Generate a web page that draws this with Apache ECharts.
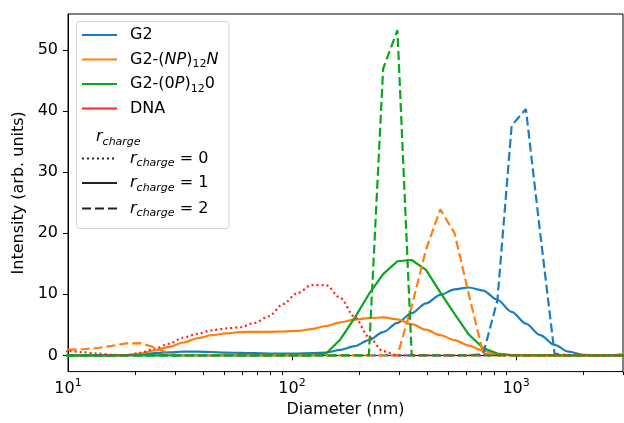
<!DOCTYPE html>
<html>
<head>
<meta charset="utf-8">
<script src="https://cdn.jsdelivr.net/npm/echarts@6/dist/echarts.min.js"></script>
<style>html,body{margin:0;padding:0;background:#fff}#c{width:624px;height:423px}</style>
</head>
<body>
<div id="c"></div>
<script>
// Diameter bins (nm)
const diameters = [8.721, 10.1, 11.7, 13.54, 15.69, 18.17, 21.04, 24.36, 28.21, 32.67, 37.84, 43.82, 50.75, 58.77, 68.06, 78.82, 91.28, 105.7, 122.4, 141.8, 164.2, 190.1, 220.2, 255.0, 295.3, 342.0, 396.1, 458.7, 531.2, 615.1, 712.4, 825.0, 955.4, 1106, 1281, 1484, 1718, 1990, 2305, 2669, 3091];
// G2, r_charge = 1
const g2_r1 = [0, 0, 0, 0, 0, 0.05, 0.15, 0.35, 0.5, 0.6, 0.6, 0.55, 0.45, 0.4, 0.35, 0.3, 0.3, 0.3, 0.35, 0.45, 0.9, 1.5, 2.5, 3.8, 5.3, 6.9, 8.5, 9.9, 10.8, 11.1, 10.6, 9.1, 7.1, 5.2, 3.3, 1.7, 0.6, 0.1, 0, 0, 0];
// G2, r_charge = 2
const g2_r2 = [0, 0, 0, 0, 0, 0, 0, 0, 0, 0, 0, 0, 0, 0, 0, 0, 0, 0, 0, 0, 0, 0, 0, 0, 0, 0, 0, 0, 0, 0, 0.2, 9.0, 37.6, 40.3, 20.0, 0.3, 0, 0, 0, 0, 0];
// G2-(NP)12N, r_charge = 1
const np_r1 = [0, 0, 0, 0, 0, 0.05, 0.3, 0.8, 1.4, 2.1, 2.8, 3.3, 3.6, 3.8, 3.85, 3.85, 3.9, 4.0, 4.3, 4.8, 5.4, 5.85, 6.1, 6.2, 5.9, 5.1, 4.2, 3.3, 2.5, 1.6, 0.75, 0.2, 0.03, 0, 0, 0, 0, 0, 0, 0.05, 0.3];
// G2-(NP)12N, r_charge = 2
const np_r2 = [0.9, 0.95, 1.0, 1.2, 1.55, 1.95, 2.0, 1.3, 0.3, 0, 0, 0, 0, 0, 0, 0, 0, 0, 0, 0, 0, 0, 0, 0, 0, 8.0, 17.3, 23.9, 20.0, 10.0, 0.3, 0, 0, 0, 0, 0, 0, 0, 0, 0, 0];
// G2-(0P)120, r_charge = 1
const op_r1 = [0, 0, 0, 0, 0, 0, 0, 0, 0, 0, 0, 0, 0, 0, 0, 0, 0, 0, 0, 0.3, 2.6, 6.1, 10.0, 13.3, 15.4, 15.6, 14.0, 10.3, 6.8, 3.4, 1.2, 0.3, 0.05, 0, 0, 0, 0, 0, 0, 0, 0];
// G2-(0P)120, r_charge = 2
const op_r2 = [0, 0, 0, 0, 0, 0, 0, 0, 0, 0, 0, 0, 0, 0, 0, 0, 0, 0, 0, 0, 0, 0, 0, 46.9, 53.2, 0, 0, 0, 0, 0, 0, 0, 0, 0, 0, 0, 0, 0, 0, 0, 0];
// DNA, r_charge = 0
const dna_r0 = [0.8, 0.7, 0.5, 0.3, 0.1, 0.0, 0.4, 1.1, 1.9, 2.9, 3.5, 4.1, 4.4, 4.6, 5.3, 6.4, 8.4, 10.2, 11.5, 11.5, 9.4, 6.3, 3.0, 0.7, 0, 0, 0, 0, 0, 0, 0, 0, 0, 0, 0, 0, 0, 0, 0, 0, 0];

const xMajorTicks = [10, 100, 1000];
const xMinorTicks = [20, 30, 40, 50, 60, 70, 80, 90, 200, 300, 400, 500, 600, 700, 800, 900, 2000, 3000];
const yTicks = [0, 10, 20, 30, 40, 50];

const C = {blue: '#1a7dc0', orange: '#ff7f0e', green: '#0ca51e', red: '#ff2222'};
const DASH = [9, 4], DOT = [2, 3];
const FONT = 'DejaVu Sans';

function pairs(ys) { return diameters.map((d, i) => [d, ys[i]]); }
function mk(name, ys, color, type, smooth) {
  return {
    name, type: 'line', data: pairs(ys), xAxisIndex: 0, yAxisIndex: 0,
    showSymbol: false, symbol: 'none', clip: true, animation: false,
    smooth: smooth ? 0.3 : false, smoothMonotone: 'x',
    lineStyle: {color, width: 2.2, type}
  };
}

const chart = echarts.init(document.getElementById('c'), null, {renderer: 'canvas'});

const lx1 = 82, lx2 = 117, tx = 130;
const rowsY = [35, 59.5, 84, 108.5];
const legendGraphics = [
  {type: 'rect', shape: {x: 76.5, y: 21.5, width: 152.5, height: 207, r: 3},
   style: {fill: 'rgba(255,255,255,0.85)', stroke: '#d4d4d4', lineWidth: 1}, z: 100},
];
const legendColors = [C.blue, C.orange, C.green, C.red];
legendColors.forEach((c, i) => legendGraphics.push({type: 'line', shape: {x1: lx1, y1: rowsY[i], x2: lx2, y2: rowsY[i]}, style: {stroke: c, lineWidth: 2.2}, z: 101}));
const rich = {
  n: {fontFamily: FONT, fontSize: 16, fill: '#000'},
  i: {fontFamily: FONT, fontSize: 16, fontStyle: 'italic', fill: '#000'},
  s: {fontFamily: FONT, fontSize: 11, fill: '#000', padding: [10, 0, 0, 0]},
  si: {fontFamily: FONT, fontSize: 11, fontStyle: 'italic', fill: '#000', padding: [10, 0, 0, 0]}
};
const legendTexts = [
  '{n|G2}',
  '{n|G2-(}{i|NP}{n|)}{s|12}{i|N}',
  '{n|G2-(0}{i|P}{n|)}{s|12}{n|0}',
  '{n|DNA}'
];
legendTexts.forEach((t, i) => legendGraphics.push({type: 'text', z: 101,
  style: {text: t, x: tx, y: rowsY[i], verticalAlign: 'middle', align: 'left', rich, fill: '#000', fontFamily: FONT, fontSize: 16}}));
legendGraphics.push({type: 'text', z: 101, style: {text: '{i|r}{si|charge}', x: 96, y: 137, verticalAlign: 'middle', rich, fontFamily: FONT, fontSize: 16}});
const rRows = [[158.5, DOT, '0'], [183, null, '1'], [208.5, DASH, '2']];
rRows.forEach(([y, dash, v]) => {
  legendGraphics.push({type: 'line', z: 101, shape: {x1: lx1, y1: y, x2: lx2, y2: y}, style: {stroke: '#222', lineWidth: 2.2, lineDash: dash || null}});
  legendGraphics.push({type: 'text', z: 101, style: {text: '{i|r}{si|charge}{n| = ' + v + '}', x: tx, y: y, verticalAlign: 'middle', rich, fontFamily: FONT, fontSize: 16}});
});

chart.setOption({
  animation: false,
  backgroundColor: '#fff',
  grid: {left: 68, right: 1, top: 14, bottom: 49, show: true, borderColor: '#000', borderWidth: 1, backgroundColor: 'transparent'},
  xAxis: [
    {type: 'log', logBase: 10, min: 10, max: 3000, gridIndex: 0, position: 'bottom',
     name: 'Diameter (nm)', nameLocation: 'middle', nameGap: 30,
     nameTextStyle: {fontFamily: FONT, fontSize: 16, color: '#000'},
     axisLine: {show: true, lineStyle: {color: '#000', width: 1}},
     axisTick: {show: true, inside: false, length: 5, customValues: xMajorTicks, lineStyle: {color: '#000', width: 1}},
     axisLabel: {show: true, margin: 6, customValues: xMajorTicks, color: '#000',
       formatter: v => '{b|10}{p|' + Math.round(Math.log10(v)) + '}',
       rich: {b: {fontFamily: FONT, fontSize: 16, color: '#000'}, p: {fontFamily: FONT, fontSize: 11, color: '#000', padding: [0, 0, 12, 0]}}},
     splitLine: {show: false}, minorTick: {show: false}},
    {type: 'log', logBase: 10, min: 10, max: 3000, gridIndex: 0, position: 'bottom',
     axisLine: {show: false},
     axisTick: {show: true, inside: false, length: 3.5, customValues: xMinorTicks, lineStyle: {color: '#000', width: 1}},
     axisLabel: {show: false}, splitLine: {show: false}, minorTick: {show: false}}
  ],
  yAxis: [{
    type: 'value', min: -2.66, max: 55.86,
    name: 'Intensity (arb. units)', nameLocation: 'middle', nameGap: 36,
    nameTextStyle: {fontFamily: FONT, fontSize: 16, color: '#000'},
    axisLine: {show: true, lineStyle: {color: '#000', width: 1}},
    axisTick: {show: true, inside: false, length: 5, customValues: yTicks, lineStyle: {color: '#000', width: 1}},
    axisLabel: {show: true, margin: 10, customValues: yTicks, fontFamily: FONT, fontSize: 16, color: '#000'},
    splitLine: {show: false}
  }],
  series: [
    mk('G2 r=1', g2_r1, C.blue, 'solid', true),
    mk('G2-(NP)12N r=1', np_r1, C.orange, 'solid', true),
    mk('G2-(0P)120 r=1', op_r1, C.green, 'solid', false),
    mk('G2 r=2', g2_r2, C.blue, DASH, false),
    mk('G2-(NP)12N r=2', np_r2, C.orange, DASH, false),
    mk('G2-(0P)120 r=2', op_r2, C.green, DASH, false),
    mk('DNA r=0', dna_r0, C.red, DOT, true)
  ],
  graphic: legendGraphics
});
</script>
</body>
</html>
